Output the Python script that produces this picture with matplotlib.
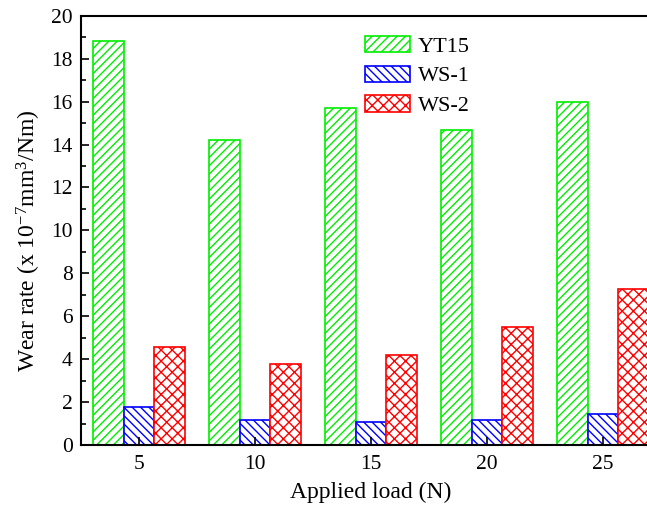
import matplotlib
matplotlib.use("Agg")
import matplotlib.pyplot as plt
from matplotlib.ticker import MultipleLocator
import numpy as np

loads = [5, 10, 15, 20, 25]
yt15 = [18.8, 14.2, 15.7, 14.68, 15.98]
ws1 = [1.77, 1.16, 1.07, 1.16, 1.44]
ws2 = [4.57, 3.77, 4.19, 5.5, 7.27]

plt.rcParams['font.family'] = ['Liberation Serif', 'DejaVu Serif']
plt.rcParams['mathtext.fontset'] = 'custom'
plt.rcParams['mathtext.rm'] = 'Liberation Serif'
plt.rcParams['mathtext.it'] = 'Liberation Serif:italic'
plt.rcParams['mathtext.bf'] = 'Liberation Serif:bold'
plt.rcParams['hatch.linewidth'] = 1.0

fig = plt.figure(figsize=(6.47, 5.09), dpi=100)
ax = fig.add_axes([0.1252, 0.1257, 0.8964, 0.8434])

x = np.array(loads, dtype=float)
w = 1.33
ax.bar(x - w, yt15, width=w, facecolor='white', edgecolor='#00ee00', hatch='////', linewidth=1.2, label='YT15')
ax.bar(x, ws1, width=w, facecolor='white', edgecolor='#0000ff', hatch='\\\\\\\\', linewidth=1.2, label='WS-1')
ax.bar(x + w, ws2, width=w, facecolor='white', edgecolor='#ff0000', hatch='xxx', linewidth=1.2, label='WS-2')

ax.set_xlim(2.5, 27.5)
ax.set_ylim(0, 20)
ax.set_xticks(loads)
ax.yaxis.set_major_locator(MultipleLocator(2))
ax.yaxis.set_minor_locator(MultipleLocator(1))
ax.tick_params(axis='both', which='both', direction='in', labelsize=15.5)
ax.tick_params(axis='x', which='major', pad=7)
ax.tick_params(axis='y', which='major', pad=6)
ax.tick_params(which='major', length=6, width=1.2)
ax.tick_params(which='minor', length=3.5, width=1.2)
for s in ax.spines.values():
    s.set_linewidth(1.5)

ax.set_xlabel('Applied load (N)', fontsize=17, labelpad=6)
ax.set_ylabel('Wear rate (x 10$^{-7}$mm$^{3}$/Nm)', fontsize=17)
ax.yaxis.set_label_coords(-0.065, 0.477)

leg = ax.legend(loc='upper left', bbox_to_anchor=(0.456, 1.0), frameon=False, fontsize=16,
                handlelength=2.0, handleheight=0.75, labelspacing=0.4, handletextpad=0.35)

fig.savefig('out.png', dpi=100)
